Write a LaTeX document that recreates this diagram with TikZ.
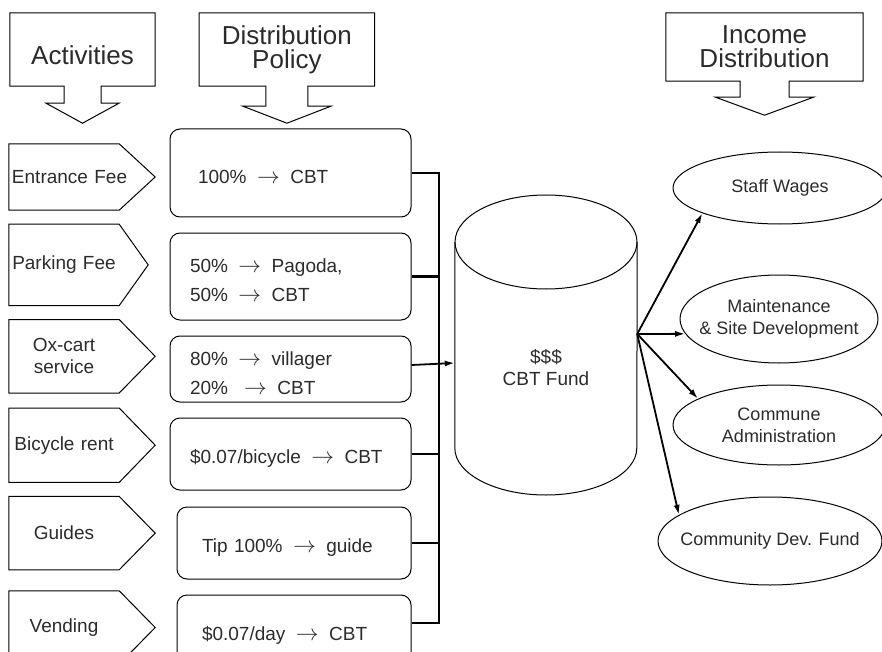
\documentclass[tikz,border=0pt]{standalone}
\usepackage{fix-cm}
\usepackage{fontspec}
\setmainfont{Liberation Sans}
\usepackage{tikz}
\usetikzlibrary{positioning}
\usetikzlibrary{shapes.geometric,arrows.meta}
\definecolor{ink}{HTML}{2B2B2B}
\newcommand{\goes}{\hspace{0.55em}\scalebox{1.2}{$\rightarrow$}\hspace{0.55em}}

\begin{document}
\begin{tikzpicture}[x=1pt, y=-1pt, >={Latex[length=10pt, width=6pt]},
    every node/.style = {text=ink, font=\fontsize{19}{22}\selectfont},
    head/.style = {rectangle, align=center, font=\fontsize{26}{24}\selectfont},
    activity/.style = {rectangle, minimum width=110pt, text width=104pt, inner xsep=3pt, align=center},
    policy/.style = {draw, line width=1pt, rectangle, rounded corners=10pt, align=left, text width=201pt, inner xsep=20pt, text height=22pt, font=\fontsize{19}{29}\selectfont},
    outcome/.style = {draw, line width=1pt, ellipse, align=center, inner xsep=-16pt, font=\fontsize{18}{22}\selectfont},
    busline/.style = {line width=2.7pt},
    feed/.style = {line width=1.8pt, ->}
  ]
  \useasboundingbox (0,0) rectangle (882,652);
  \clip (0,0) rectangle (882,652);

  % headers
  \node[head, minimum width=145pt, minimum height=73pt, text height=30pt] (hact) at (82.5,49.5) {Activities};
  \node[head, minimum width=175pt, minimum height=73pt, right=44pt of hact] (hpol) {Distribution\\Policy};
  \node[head, minimum width=197pt, minimum height=68pt] (hinc) at (764.5,47) {Income\\Distribution};
  \foreach \hd/\sw/\ex/\sl/\hl in {hact/18.5/18/17/20, hpol/21/23/20/17, hinc/24.5/24.5/16/18}
    \draw[line width=1pt] (\hd.south west) |- (\hd.north east) |- ([xshift=\sw pt]\hd.south)
      -- ++(0,\sl) -- ++(\ex,0) -- ++({-\sw-\ex},\hl) -- ++({-\sw-\ex},{-\hl}) -- ++(\ex,0) -- ++(0,{-\sl}) -- cycle;

  % activities
  \node[activity, minimum height=66pt] (act1) at (64,177) {Entrance~Fee};
  \node[activity, minimum height=81pt, below=14pt of act1] (act2) {Parking Fee};
  \node[activity, minimum height=73pt, below=14pt of act2] (act3) {Ox-cart\\service};
  \node[activity, minimum height=74pt, below=15pt of act3] (act4) {Bicycle rent};
  \node[activity, minimum height=73pt, below=14pt of act4] (act5) {Guides};
  \node[activity, minimum height=73pt, below=21pt of act5] (act6) {Vending};
  \foreach \n/\tip in {1/36,2/29,3/36,4/36,5/36,6/36}
    \draw[line width=1pt] (act\n.north west) -- (act\n.north east) -- ([xshift=\tip pt]act\n.east)
      -- (act\n.south east) -- (act\n.south west) -- cycle;

  % distribution policy
  \node[policy, minimum height=88pt] (pol1) at (290.5,173) {\hspace*{8pt}100\%\goes CBT};
  \node[policy, minimum height=87pt, below=15pt of pol1] (pol2) {50\%\goes Pagoda,\\50\%\goes CBT};
  \node[policy, minimum height=66pt, below=15pt of pol2] (pol3) {80\%\goes villager\\20\%\hspace{0.3em}\goes CBT};
  \node[policy, minimum height=72pt, below=15pt of pol3] (pol4) {\$0.07/bicycle\goes CBT};
  \node[policy, minimum height=72pt, text width=194pt, below=16pt of pol4.south east, anchor=north east] (pol5) {\hspace*{5pt}Tip 100\%\goes guide};
  \node[policy, minimum height=72pt, text width=194pt, below=15pt of pol5] (pol6) {\hspace*{5pt}\$0.07/day\goes CBT};

  % fund
  \node[minimum width=182pt, inner sep=0pt, align=center] (fund) at (546,368) {\$\$\$\\CBT Fund};
  \draw[line width=1pt] ([yshift=126pt]fund.center) ellipse[x radius=91pt, y radius=47pt];
  \draw[line width=1pt] ([yshift=126pt]fund.west) -- ([yshift=-80pt]fund.west)
    arc[start angle=180, end angle=360, x radius=91pt, y radius=47pt] -- ([yshift=126pt]fund.east);

  % bus
  \coordinate (bus) at (439,0);
  \coordinate (p3) at ([yshift=4pt]pol3.east);
  \coordinate (p6) at ([yshift=8pt]pol6.east);
  \draw[busline] (pol1.east) -- (pol1.east -| bus) -- (p6 -| bus) -- (p6);
  \foreach \n in {2,4,5} \draw[busline] (pol\n.east) -- (pol\n.east -| bus);
  \draw[feed] (p3) -- ([yshift=5pt]fund.west);

  % income distribution
  \node[outcome, minimum width=214pt, minimum height=72pt] (wage) at (780,188) {Staff Wages};
  \node[outcome, minimum width=198pt, minimum height=88pt] (maint) at (779,319) {Maintenance\\\& Site Development};
  \node[outcome, minimum width=212pt, minimum height=80pt] (comm) at (779,425) {Commune\\Administration};
  \node[outcome, minimum width=224pt, minimum height=88pt] (cdf) at (770,541) {Community Dev. Fund};

  \coordinate (hub) at ([yshift=34pt]fund.east);
  \draw[feed] (hub) -- (wage.198);
  \draw[feed] (hub) -- (maint.189);
  \draw[feed] (hub) -- (comm.162);
  \draw[feed] (hub) -- (cdf.164);
\end{tikzpicture}
\end{document}
